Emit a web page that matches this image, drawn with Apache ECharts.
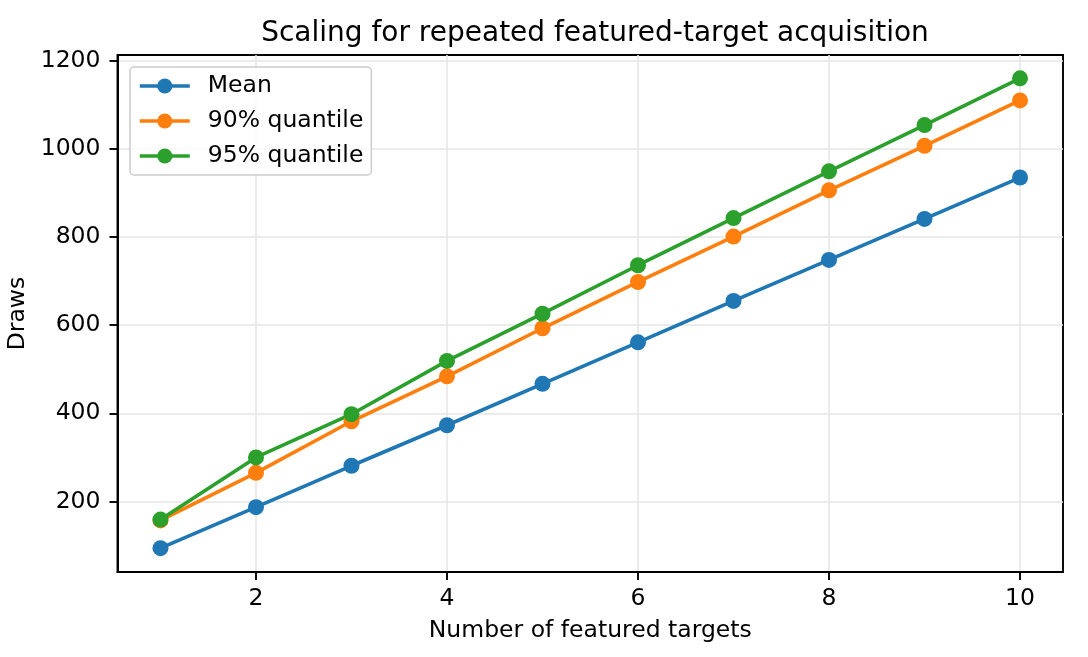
<!DOCTYPE html>
<html>
<head>
<meta charset="utf-8">
<script src="https://cdn.jsdelivr.net/npm/echarts@6/dist/echarts.min.js"></script>
<style>
  html, body { margin: 0; padding: 0; background: #fff; }
  #chart { width: 1088px; height: 657px; }
</style>
</head>
<body>
<div id="chart"></div>
<script>
// values
const targets = [1, 2, 3, 4, 5, 6, 7, 8, 9, 10]
const meanDraws = [94, 187, 281, 373, 467, 561, 655, 748, 841, 935]
const q90Draws = [157, 265, 382, 484, 593, 698, 801, 906, 1007, 1110]
const q95Draws = [159, 300, 398, 519, 626, 736, 843, 949, 1054, 1160]
const xTicks = [2, 4, 6, 8, 10]
const yTicks = [200, 400, 600, 800, 1000, 1200]
const seriesNames = ['Mean', '90% quantile', '95% quantile']
const colors = ['#1f77b4', '#ff7f0e', '#2ca02c']

const font = 'DejaVu Sans'
const toPairs = vals => targets.map((t, i) => [t, vals[i]])

const chart = echarts.init(document.getElementById('chart'))

const axisCommon = {
  axisLine: { show: true, lineStyle: { color: '#000', width: 1.9 } },
  axisTick: { show: true, length: 8, lineStyle: { color: '#000', width: 1.9 } },
  splitLine: { show: true, lineStyle: { color: '#e6e6e6', width: 1.6 } },
  nameTextStyle: { fontFamily: font, fontSize: 23.5, color: '#000' }
}

chart.setOption({
  animation: false,
  color: colors,
  title: {
    text: 'Scaling for repeated featured-target acquisition',
    left: 590,
    textAlign: 'center',
    top: 15,
    textStyle: { fontFamily: font, fontSize: 28, fontWeight: 'normal', color: '#000' }
  },
  legend: {
    orient: 'vertical',
    left: 130,
    top: 67,
    padding: [7, 8, 7, 8],
    itemWidth: 50,
    itemHeight: 19,
    itemGap: 11,
    borderColor: '#cccccc',
    borderWidth: 1.5,
    borderRadius: 4,
    backgroundColor: 'rgba(255,255,255,0.8)',
    lineStyle: { width: 3.6 },
    textStyle: { fontFamily: font, fontSize: 23.5, color: '#000', padding: [0, 0, 0, 13] },
    data: seriesNames
  },
  grid: {
    left: 117.5,
    right: 25,
    top: 55,
    bottom: 85,
    show: true,
    borderColor: '#000',
    borderWidth: 1.9,
    outerBoundsMode: 'none'
  },
  xAxis: Object.assign({}, axisCommon, {
    type: 'value',
    min: 0.55,
    max: 10.45,
    name: 'Number of featured targets',
    nameLocation: 'middle',
    nameGap: 47,
    axisTick: Object.assign({}, axisCommon.axisTick, { customValues: xTicks }),
    axisLabel: {
      customValues: xTicks,
      margin: 15,
      fontFamily: font,
      fontSize: 23.5,
      color: '#000',
      formatter: v => String(v)
    }
  }),
  yAxis: Object.assign({}, axisCommon, {
    type: 'value',
    min: 40,
    max: 1213,
    name: 'Draws',
    nameLocation: 'middle',
    nameGap: 78,
    axisTick: Object.assign({}, axisCommon.axisTick, { customValues: yTicks }),
    axisLabel: {
      customValues: yTicks,
      margin: 17,
      fontFamily: font,
      fontSize: 23.5,
      color: '#000',
      formatter: v => String(v)
    }
  }),
  series: [meanDraws, q90Draws, q95Draws].map((vals, i) => ({
    name: seriesNames[i],
    type: 'line',
    data: toPairs(vals),
    symbol: 'circle',
    symbolSize: 16,
    lineStyle: { width: 3.6, color: colors[i] },
    itemStyle: { color: colors[i] }
  }))
})
</script>
</body>
</html>
